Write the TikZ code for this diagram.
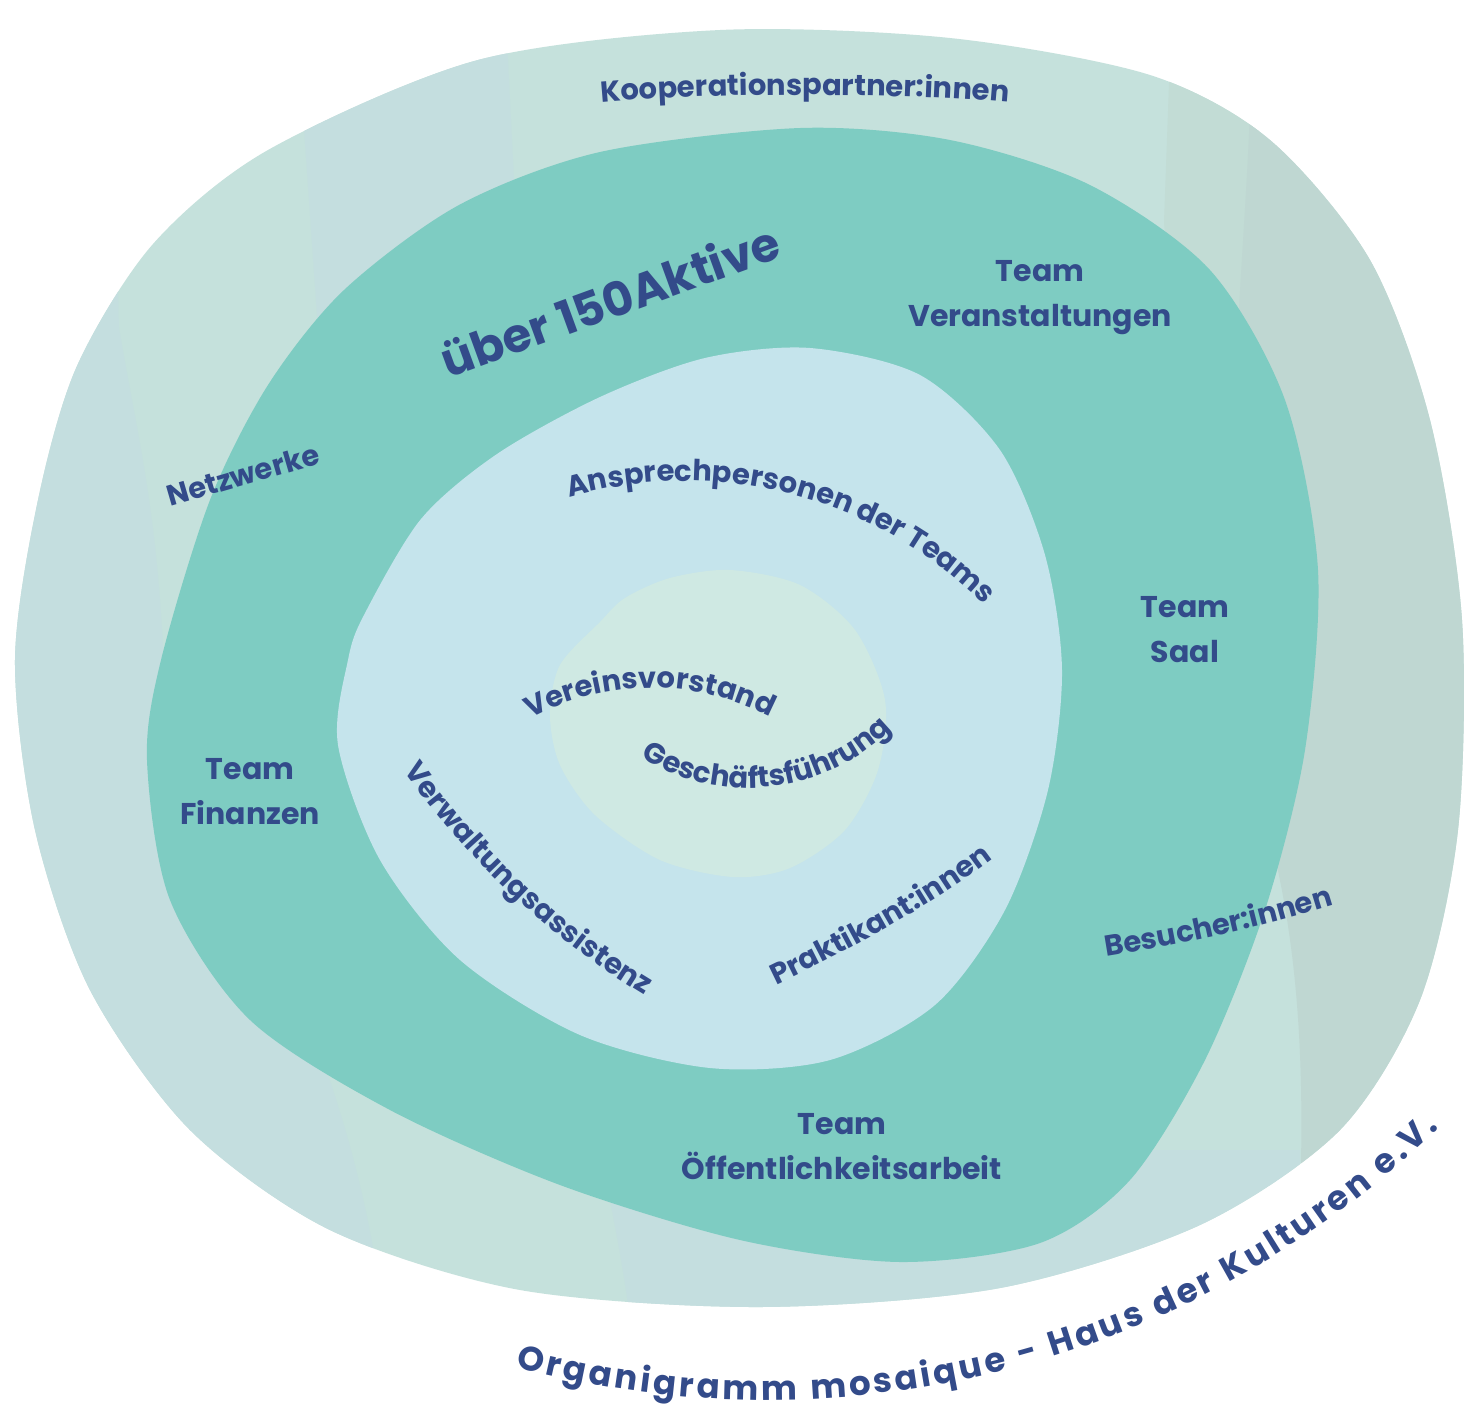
\documentclass[tikz,border=0pt]{standalone}
\usepackage{fontspec}
\newfontfamily\pop{Poppins}[UprightFont=* Bold]
\usetikzlibrary{decorations.text}
\definecolor{outerA}{HTML}{C5E1DC}
\definecolor{outerB}{HTML}{C4DEDF}
\definecolor{outerC}{HTML}{BFD7D2}
\definecolor{outerD}{HTML}{C2DCD5}
\definecolor{teal}{HTML}{7ECCC2}
\definecolor{lblue}{HTML}{C5E4EC}
\definecolor{core}{HTML}{CFE9E3}
\definecolor{txt}{HTML}{334B8A}
\tikzset{
  lbl/.style={font=\pop\fontsize{15}{22.5}\selectfont, text=txt, align=center, inner sep=0pt},
  curvetext/.style={decorate, decoration={text along path, text align=center, text={|\pop\fontsize{14.5}{18}\selectfont\color{txt}|#1}}},
}
\begin{document}
\begin{tikzpicture}[x=0.5pt,y=-0.5pt]
\useasboundingbox (0,0) rectangle (1464,1410);
\fill[white] (0,0) rectangle (1464,1410);

% outer blob with its faint facets
\def\outerpts{(15,660) (38,500) (77,366) (153,244) (268,150) (478,60) (720,30) (950,38) (1150,75) (1270,140) (1370,260) (1430,420) (1462,620) (1458,830) (1420,1000) (1340,1130) (1200,1225) (1000,1288) (760,1307) (520,1290) (330,1230) (190,1130) (90,990) (35,830)}
\path[fill=outerA] plot[smooth cycle] coordinates {\outerpts};
\begin{scope}
\clip plot[smooth cycle] coordinates {\outerpts};
\fill[outerB] (0,0) -- (110,0) -- (119,328) .. controls (140,450) and (160,520) .. (165,700) .. controls (250,900) and (380,1100) .. (390,1410) -- (0,1410) -- cycle;
\fill[outerB] (295,0) -- (318,330) -- (330,700) -- (600,700) -- (520,300) -- (505,0) -- cycle;
\fill[outerD] (1172,0) -- (1164,222) -- (1200,700) -- (1300,700) -- (1250,0) -- cycle;
\fill[outerC] (1250,0) .. controls (1260,200) and (1200,500) .. (1260,800) .. controls (1320,1000) and (1300,1200) .. (1290,1410) -- (1464,1410) -- (1464,0) -- cycle;
\fill[outerB] (640,1410) .. controls (630,1300) and (620,1250) .. (600,1150) -- (1300,1150) -- (1300,1410) -- cycle;
\end{scope}

% teal blob
\path[fill=teal] plot[smooth cycle] coordinates {(147,760) (161,660) (210,500) (268,385) (344,290) (459,205) (600,152) (800,128) (950,140) (1090,185) (1210,270) (1285,400) (1318,570) (1305,750) (1265,910) (1205,1060) (1130,1180) (1040,1243) (900,1262) (740,1240) (560,1185) (390,1110) (250,1020) (170,900)};

% light blue blob
\path[fill=lblue] plot[smooth cycle] coordinates {(338,745) (348,660) (364,615) (421,519) (497,454) (600,397) (705,358) (810,348) (920,375) (1000,450) (1045,555) (1062,670) (1048,790) (1005,910) (935,1005) (830,1060) (710,1068) (580,1035) (460,960) (380,860)};

% core blob
\path[fill=core] plot[smooth cycle] coordinates {(550,715) (560,665) (600,622) (625,598) (670,578) (730,570) (800,585) (855,630) (885,700) (878,770) (845,830) (790,868) (733,877) (660,860) (595,815) (560,765)};

% straight labels
\node[lbl] (tv) at (1040,298) {Team\\Veranstaltungen};
\node[lbl] (ts) at (1185,630) {Team\\Saal};
\node[lbl] (tf) at (250,792) {Team\\Finanzen};
\node[lbl] (to) at (842,1147) {Team\\Öffentlichkeitsarbeit};
\node[font=\pop\fontsize{23.5}{28}\selectfont, text=txt, rotate=20, inner sep=0pt] (akt) at (610,300) {über 150Aktive};

% curved labels
\path[curvetext={Kooperationspartner:innen}] (586,104) .. controls (700,92) and (910,92) .. (1024,104);
\path[curvetext={Netzwerke}] (160,510) -- (332,460);
\path[curvetext={Ansprechpersonen der Teams}] (686,902) ++(-107:421) arc[start angle=-107, end angle=-44, radius=421];
\path[curvetext={Vereinsvorstand}] (652,944) ++(-121:256) arc[start angle=-121, end angle=-60, radius=256];
\path[curvetext={Geschäftsführung}] (748,584) ++(127:204) arc[start angle=127, end angle=40, radius=204];
\path[curvetext={Verwaltungsassistenz}] (1060,308) ++(147:803) arc[start angle=147, end angle=119, radius=803];
\path[curvetext={Praktikant:innen}] (766,990) .. controls (840,955) and (935,905) .. (1002,852);
\path[curvetext={Besucher:innen}] (1098,958) .. controls (1180,945) and (1260,928) .. (1342,902);

% title
\path[decorate, decoration={text along path, text align=fit to path, text={|\pop\fontsize{17}{20}\selectfont\color{txt}|Organigramm mosaique - Haus der Kulturen e.V.}}] (766,432) ++(105:968) arc[start angle=105, end angle=46, radius=968];
\end{tikzpicture}
\end{document}
